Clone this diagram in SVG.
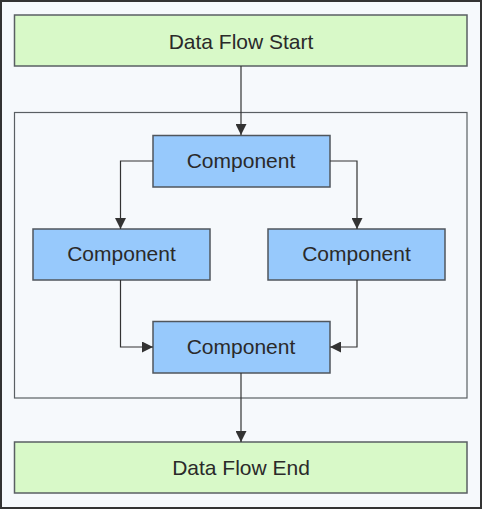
<svg xmlns="http://www.w3.org/2000/svg" width="482" height="509" viewBox="0 0 482 509">
<style>
.bg{fill:#f6f9fc;stroke:#333;stroke-width:2}
.term{fill:#d8f9c8;stroke:#5a5f63;stroke-width:1.5}
.comp{fill:#97c9fc;stroke:#50565c;stroke-width:1.5}
.cont{fill:#f6f9fc;stroke:#5a5f63;stroke-width:1.2}
.lbl{font-family:"Liberation Sans",Arial,sans-serif;font-size:21px;fill:#2a2a2a;text-anchor:middle;dominant-baseline:central}
.edge{fill:none;stroke:#333;stroke-width:1.2}
</style>
<defs>
<marker id="arr" viewBox="0 0 10 10" refX="10" refY="5" markerWidth="11" markerHeight="11" markerUnits="userSpaceOnUse" orient="auto">
<path d="M0,0 L10,5 L0,10 Z" fill="#333"/>
</marker>
</defs>
<rect class="bg" x="1" y="1" width="480" height="507"/>
<g id="container"><rect class="cont" x="14.5" y="112.5" width="452.5" height="285.5"/></g>
<g id="start"><rect class="term" x="14.5" y="15" width="452.5" height="51"/><text class="lbl" x="241" y="41">Data Flow Start</text></g>
<g id="c1"><rect class="comp" x="153" y="135.5" width="177" height="51.5"/><text class="lbl" x="241" y="160">Component</text></g>
<g id="c2"><rect class="comp" x="33" y="229" width="177" height="51"/><text class="lbl" x="121.5" y="253">Component</text></g>
<g id="c3"><rect class="comp" x="268" y="229" width="177" height="51"/><text class="lbl" x="356.5" y="253">Component</text></g>
<g id="c4"><rect class="comp" x="153" y="321.5" width="177" height="51.5"/><text class="lbl" x="241" y="346">Component</text></g>
<g id="end"><rect class="term" x="14.5" y="442" width="452.5" height="51"/><text class="lbl" x="241" y="467">Data Flow End</text></g>
<g id="connectors">
<path class="edge" d="M241,66 V135" marker-end="url(#arr)"/>
<path class="edge" d="M153,161 H120.5 V229" marker-end="url(#arr)"/>
<path class="edge" d="M330,161 H357 V229" marker-end="url(#arr)"/>
<path class="edge" d="M120.5,280 V347 H153" marker-end="url(#arr)"/>
<path class="edge" d="M357,280 V347 H330" marker-end="url(#arr)"/>
<path class="edge" d="M241,373 V442" marker-end="url(#arr)"/>
</g>
</svg>
